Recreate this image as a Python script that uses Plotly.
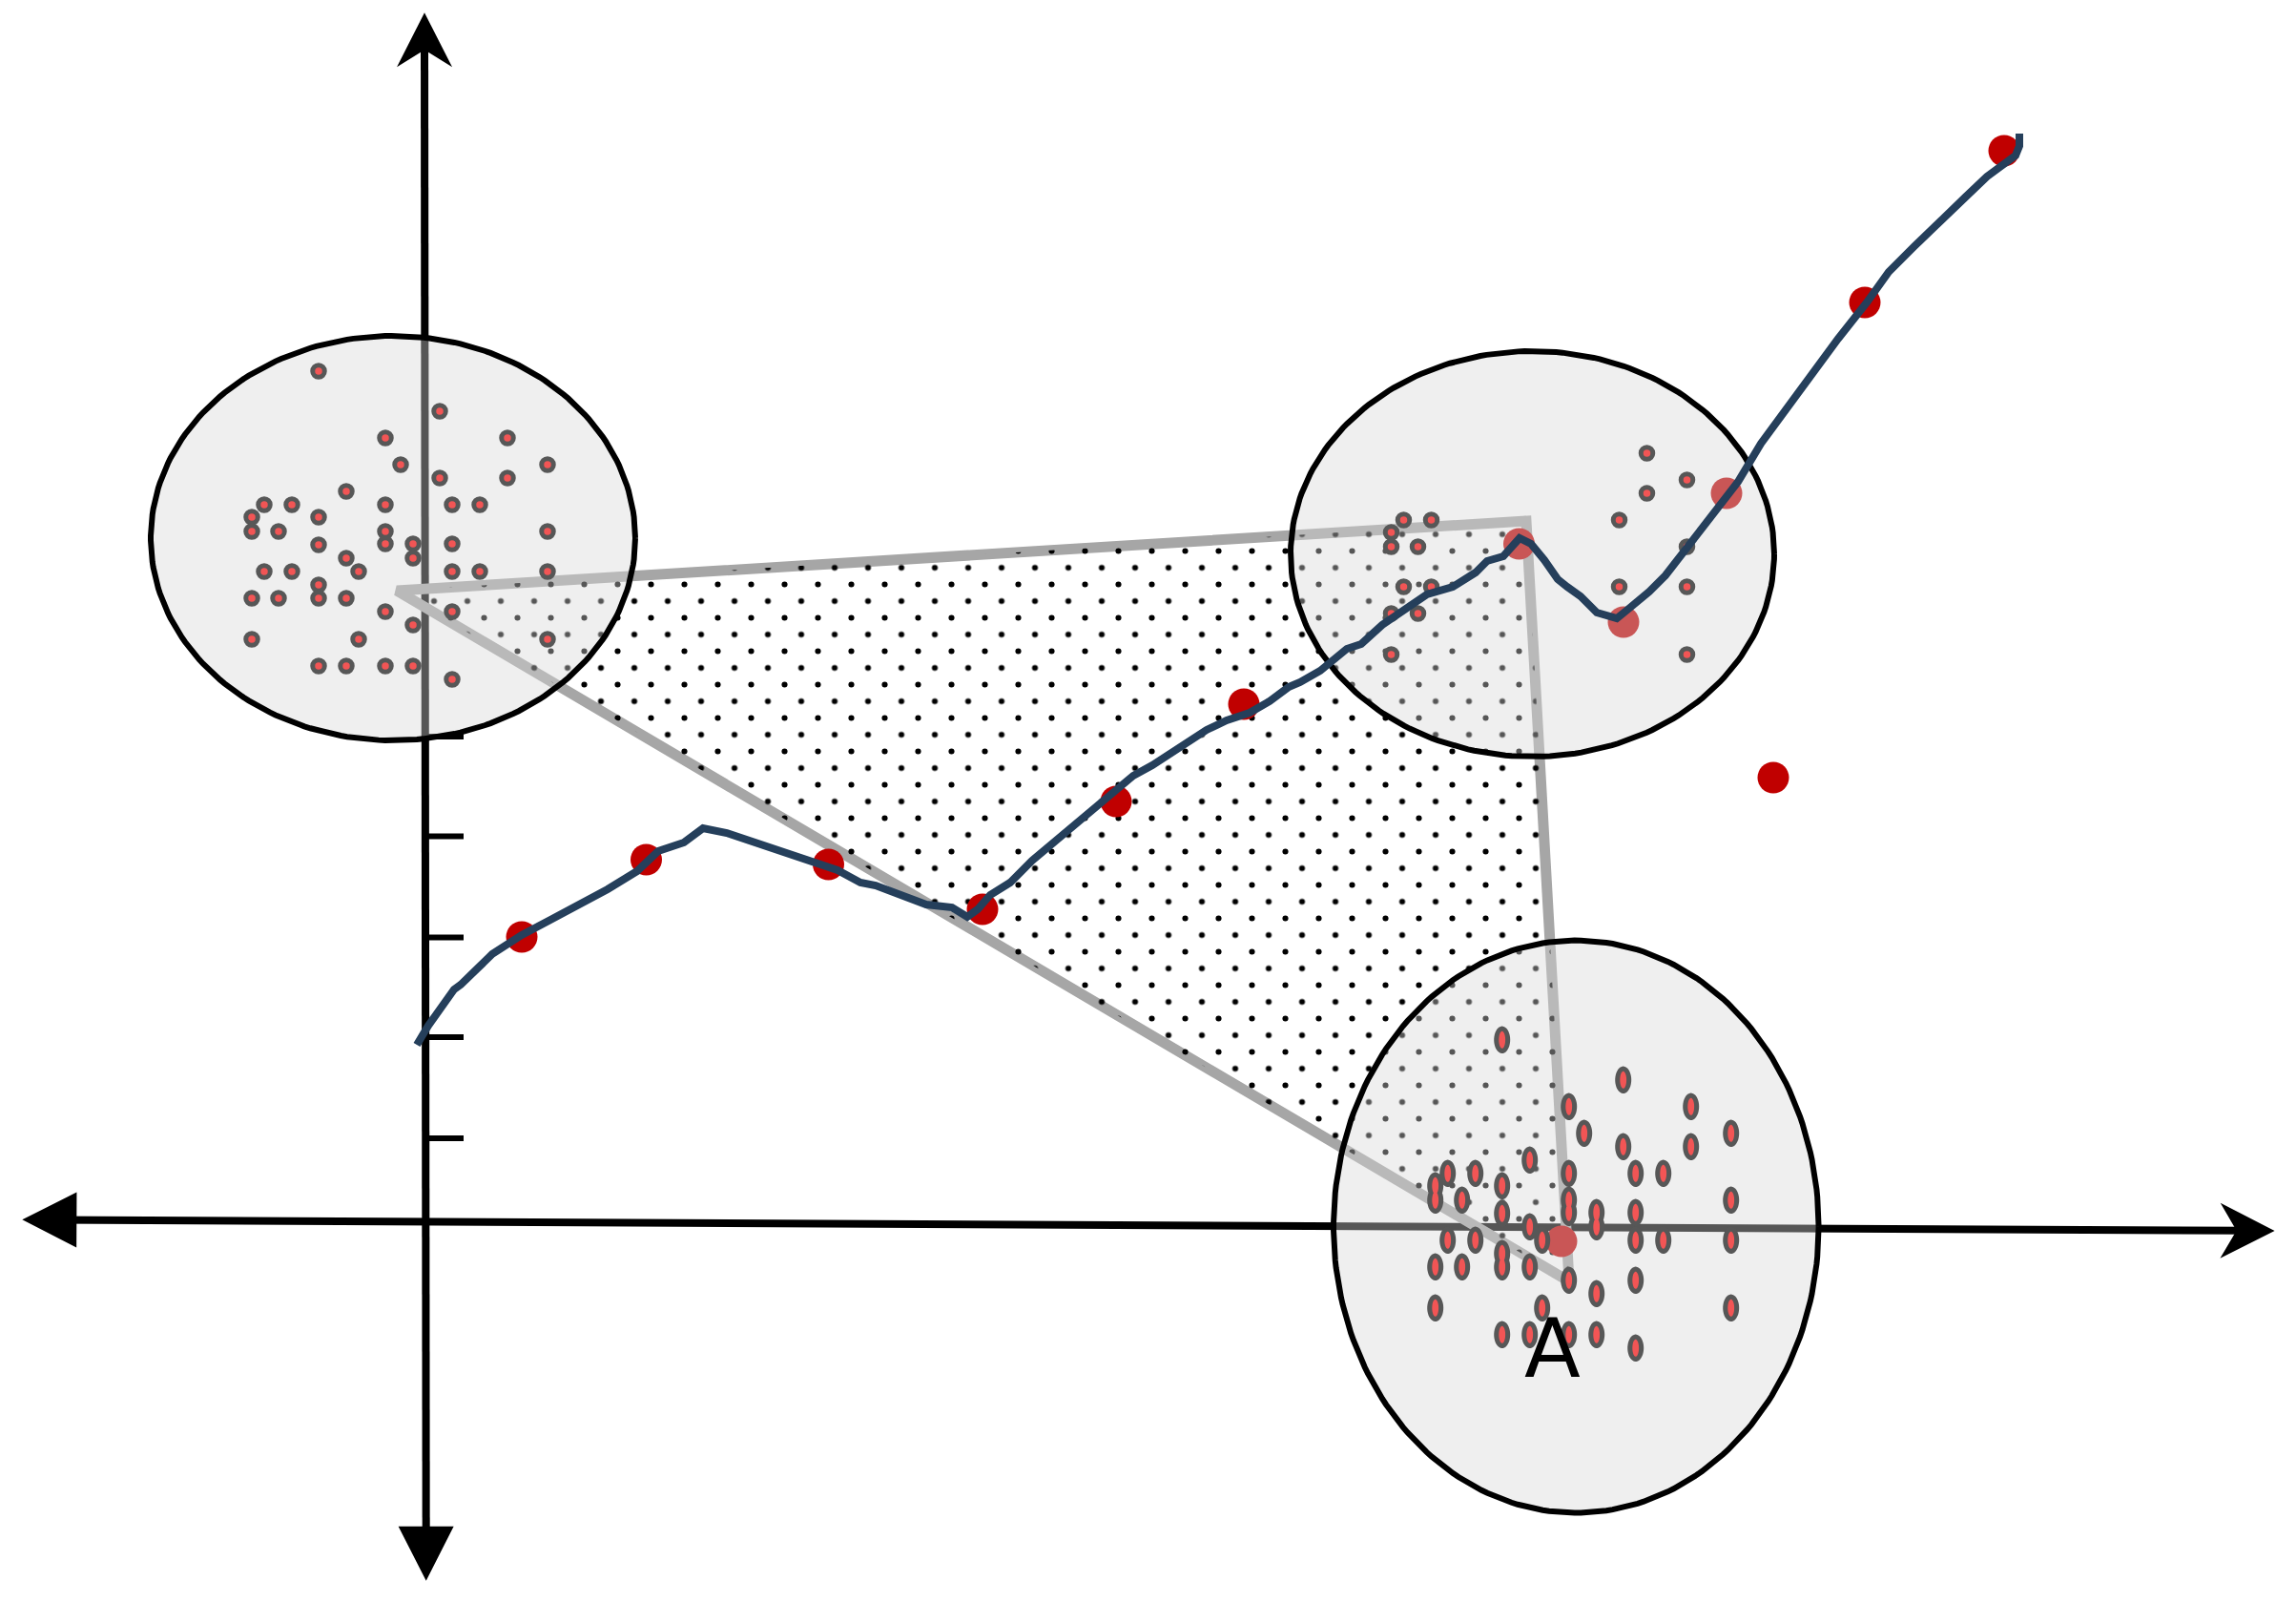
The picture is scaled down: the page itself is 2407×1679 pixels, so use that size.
import numpy as np
import plotly.graph_objects as go

# ---------------- data (1 unit = one axis step of the drawing) ----------------
# point pattern of the clusters (read from the upper-left cluster)
pat_x = [-1.13, 0.14, -0.43, 0.85, -0.27, 1.27, 0.14, 0.85, -0.84, -1.70, -1.41, -0.43,
         0.27, 0.56, -1.83, -1.13, -1.83, -1.55, -0.43, 1.27, -1.13, -0.43, -0.14, 0.27,
         -0.84, -0.14, -1.70, -1.41, -0.71, 0.27, 0.56, 1.27, -1.13, -1.83, -1.55, -1.13,
         -0.84, -0.43, 0.27, -0.14, -1.83, -0.71, 1.27, -1.13, -0.84, -0.43, -0.14, 0.27]
pat_y = [8.91, 8.49, 8.21, 8.21, 7.93, 7.93, 7.79, 7.79, 7.65, 7.51, 7.51, 7.51,
         7.51, 7.51, 7.38, 7.38, 7.23, 7.23, 7.23, 7.23, 7.09, 7.10, 7.10, 7.10,
         6.95, 6.95, 6.81, 6.81, 6.81, 6.81, 6.81, 6.81, 6.67, 6.53, 6.53, 6.53,
         6.53, 6.39, 6.39, 6.25, 6.10, 6.10, 6.10, 5.82, 5.82, 5.82, 5.82, 5.68]
tr_idx = [3, 5, 7, 9, 10, 13, 14, 16, 17, 19, 26, 27, 30, 31, 33, 34, 40, 42]
tr_shift = (11.945, -0.16)
bottom_shift = (12.407, -7.008)

# the three shaded ellipses
ell_cx = [-0.35, 11.595, 12.053]
ell_cy = [7.16, 6.995, -0.056]
ell_rx = [2.54, 2.535, 2.543]
ell_ry = [2.12, 2.125, 3.00]

# the dotted triangle
tri_x = [-0.31, 11.53, 11.98]
tri_y = [6.61, 7.34, -0.63]

# the curve
curve_x = [-0.10, 0.02, 0.29, 0.36, 0.69, 1.00, 1.32, 1.61, 1.90, 2.21, 2.43, 2.70, 2.90,
           3.15, 3.41, 3.99, 4.31, 4.55, 4.71, 5.24, 5.51, 5.67, 5.78, 5.91, 6.12, 6.35,
           6.67, 6.96, 7.25, 7.41, 7.61, 7.90, 8.18, 8.39, 8.63, 8.84, 9.04, 9.16, 9.37,
           9.65, 9.80, 10.02, 10.27, 10.49, 10.76, 11.00, 11.12, 11.29, 11.46, 11.58, 11.72,
           11.86, 11.96, 12.10, 12.27, 12.37, 12.48, 12.58, 12.82, 12.99, 13.23, 13.47,
           13.75, 13.99, 14.33, 14.50, 14.80, 15.10, 15.33, 15.60, 15.86, 16.13, 16.36,
           16.53, 16.66, 16.70, 16.70]
curve_y = [1.85, 2.05, 2.43, 2.48, 2.80, 3.00, 3.17, 3.32, 3.48, 3.67, 3.88, 3.97, 4.12,
           4.07, 3.98, 3.80, 3.68, 3.55, 3.52, 3.32, 3.29, 3.19, 3.27, 3.42, 3.55, 3.78,
           4.05, 4.30, 4.55, 4.67, 4.78, 4.98, 5.15, 5.25, 5.33, 5.45, 5.60, 5.65, 5.77,
           6.00, 6.05, 6.25, 6.43, 6.57, 6.65, 6.80, 6.92, 6.97, 7.16, 7.10, 6.93,
           6.73, 6.65, 6.55, 6.38, 6.35, 6.32, 6.40, 6.60, 6.77, 7.07, 7.38,
           7.75, 8.15, 8.62, 8.83, 9.25, 9.63, 9.95, 10.22, 10.48, 10.73, 10.95,
           11.08, 11.17, 11.27, 11.40]

# large red points
red_x = [1.00, 2.305, 4.215, 5.83, 7.23, 8.57, 11.455, 12.55, 13.63, 15.08, 16.54, 14.12, 11.90]
red_y = [2.98, 3.79, 3.74, 3.27, 4.40, 5.42, 7.10, 6.28, 7.63, 9.63, 11.22, 4.65, -0.21]

# axes and ticks
xaxis_ends_x = [-4.237, 19.376]
xaxis_ends_y = [0.017, -0.100]
yaxis_ends_x = [-0.02, -0.003]
yaxis_ends_y = [12.667, -3.767]
tick_y = [5.08, 4.035, 2.975, 1.93, 0.87]
tick_len = 0.39

label_text = "A"
label_pos = (11.80, -1.33)

# ---------------- helpers ----------------
X0, X1 = -4.47, 19.60
Y0, Y1 = -3.99, 12.80
W, H = 2407, 1679
SHIFT_PX = 17.5
sh = SHIFT_PX / 100.0


def ellipse_path(cx, cy, rx, ry, n=240):
    t = np.linspace(0, 2 * np.pi, n)
    return list(cx + rx * np.cos(t)), list(cy + ry * np.sin(t))


def many_ellipses(xs, ys, rx, ry, n=40):
    ox, oy = [], []
    for x, y in zip(xs, ys):
        ex, ey = ellipse_path(x, y, rx, ry, n)
        ox += ex + [None]
        oy += ey + [None]
    return ox, oy


def arrow_head(tip, tail, length, half_w, notch):
    """polygon of an arrow head whose point sits at `tip`, pointing away from `tail`"""
    d = np.array(tip, float) - np.array(tail, float)
    d /= np.hypot(*d)
    n = np.array([-d[1], d[0]])
    tipv = np.array(tip, float)
    base = tipv - d * length
    pts = [tipv, base + n * half_w, tipv - d * (length - notch), base - n * half_w, tipv]
    return [p[0] for p in pts] + [None], [p[1] for p in pts] + [None]


fig = go.Figure()

# ---- layer 1 (subplot xy): axes, ticks, triangle edges, first half of dot texture
ax_line_w = 8
head_len, head_half = 0.57, 0.29
fig.add_trace(go.Scatter(
    x=[xaxis_ends_x[0] + 0.3, xaxis_ends_x[1] - 0.3, None, yaxis_ends_x[0], yaxis_ends_x[1]],
    y=[xaxis_ends_y[0] - 0.0015, xaxis_ends_y[1] + 0.0015, None, yaxis_ends_y[0] - 0.3, yaxis_ends_y[1] + 0.3],
    mode="lines", line=dict(color="black", width=ax_line_w), xaxis="x", yaxis="y",
    hoverinfo="skip", showlegend=False))
hx, hy = [], []
for tip, tail, notch in [
    ((yaxis_ends_x[0], yaxis_ends_y[0]), (yaxis_ends_x[1], yaxis_ends_y[1]), 0.18),
    ((yaxis_ends_x[1], yaxis_ends_y[1]), (yaxis_ends_x[0], yaxis_ends_y[0]), 0.0),
    ((xaxis_ends_x[0], xaxis_ends_y[0]), (xaxis_ends_x[1], xaxis_ends_y[1]), 0.0),
    ((xaxis_ends_x[1], xaxis_ends_y[1]), (xaxis_ends_x[0], xaxis_ends_y[0]), 0.17),
]:
    a, b = arrow_head(tip, tail, head_len, head_half, notch)
    hx += a
    hy += b
fig.add_trace(go.Scatter(x=hx, y=hy, mode="none", fill="toself", fillcolor="black",
                         xaxis="x", yaxis="y", hoverinfo="skip", showlegend=False))

tx, ty = [], []
for t in tick_y:
    tx += [0.0, tick_len, None]
    ty += [t, t, None]
fig.add_trace(go.Scatter(x=tx, y=ty, mode="lines", line=dict(color="black", width=6),
                         xaxis="x", yaxis="y", hoverinfo="skip", showlegend=False))

fig.add_trace(go.Scatter(x=tri_x + [tri_x[0], tri_x[1]], y=tri_y + [tri_y[0], tri_y[1]], mode="lines",
                         line=dict(color="#a6a6a6", width=11),
                         xaxis="x", yaxis="y", hoverinfo="skip", showlegend=False))

dot_pattern = dict(shape=".", fgcolor="black", bgcolor="rgba(0,0,0,0)", size=35,
                   solidity=0.024, fillmode="replace")
fig.add_trace(go.Scatter(x=tri_x + [tri_x[0]], y=tri_y + [tri_y[0]], mode="none", fill="toself",
                         fillcolor="rgba(0,0,0,0)", fillpattern=dot_pattern,
                         xaxis="x", yaxis="y", hoverinfo="skip", showlegend=False))

# ---- layer 2 (subplot x2y2, shifted half a tile): everything else
fig.add_trace(go.Scatter(x=tri_x + [tri_x[0]], y=tri_y + [tri_y[0]], mode="none", fill="toself",
                         fillcolor="rgba(0,0,0,0)", fillpattern=dot_pattern,
                         xaxis="x2", yaxis="y2", hoverinfo="skip", showlegend=False))

# big red points (beneath the shaded ellipses)
fig.add_trace(go.Scatter(x=red_x, y=red_y, mode="markers",
                         marker=dict(size=33, color="#c00000", line=dict(width=0)),
                         xaxis="x2", yaxis="y2", hoverinfo="skip", showlegend=False))

# shaded ellipses
ex_all, ey_all = [], []
for cx, cy, rx, ry in zip(ell_cx, ell_cy, ell_rx, ell_ry):
    ex, ey = ellipse_path(cx, cy, rx, ry)
    ex_all += ex + [None]
    ey_all += ey + [None]
fig.add_trace(go.Scatter(x=ex_all, y=ey_all, mode="lines", fill="toself",
                         fillcolor="rgba(215,215,215,0.4)", line=dict(color="black", width=6),
                         xaxis="x2", yaxis="y2", hoverinfo="skip", showlegend=False))

# cluster points: upper-left and upper-right
pt_fill = "#f25555"
pt_ring = "#575757"
c1x = pat_x
c1y = pat_y
c2x = [pat_x[i] + tr_shift[0] for i in tr_idx]
c2y = [pat_y[i] + tr_shift[1] for i in tr_idx]
fig.add_trace(go.Scatter(x=c1x + c2x, y=c1y + c2y, mode="markers",
                         marker=dict(size=12.5, color=pt_fill, line=dict(color=pt_ring, width=5)),
                         xaxis="x2", yaxis="y2", hoverinfo="skip", showlegend=False))

# bottom cluster (elongated points)
c3x = [x + bottom_shift[0] for x in pat_x]
c3y = [y + bottom_shift[1] for y in pat_y]
ox, oy = many_ellipses(c3x, c3y, 0.085, 0.142)
fig.add_trace(go.Scatter(x=ox, y=oy, mode="none", fill="toself", fillcolor=pt_ring,
                         xaxis="x2", yaxis="y2", hoverinfo="skip", showlegend=False))
ix, iy = many_ellipses(c3x, c3y, 0.034, 0.09)
fig.add_trace(go.Scatter(x=ix, y=iy, mode="none", fill="toself", fillcolor=pt_fill,
                         xaxis="x2", yaxis="y2", hoverinfo="skip", showlegend=False))

# the curve
fig.add_trace(go.Scatter(x=curve_x, y=curve_y, mode="lines",
                         line=dict(color="#253f5b", width=8),
                         xaxis="x2", yaxis="y2", hoverinfo="skip", showlegend=False))

# ---- label
annotations = [dict(x=label_pos[0], y=label_pos[1], xref="x2", yref="y2", text=label_text,
                    showarrow=False, font=dict(family="DejaVu Sans", size=86, color="black"))]

axis_common = dict(visible=False, showgrid=False, zeroline=False, showticklabels=False, fixedrange=True)
fig.update_layout(
    width=W, height=H,
    margin=dict(l=0, r=0, t=0, b=0, pad=0),
    paper_bgcolor="white", plot_bgcolor="rgba(0,0,0,0)",
    showlegend=False, hovermode=False,
    xaxis=dict(domain=[0, 1], range=[X0, X1], anchor="y", **axis_common),
    yaxis=dict(domain=[0, 1], range=[Y0, Y1], anchor="x", **axis_common),
    xaxis2=dict(domain=[SHIFT_PX / W, 1], range=[X0 + sh, X1], anchor="y2", **axis_common),
    yaxis2=dict(domain=[0, 1 - SHIFT_PX / H], range=[Y0, Y1 - sh], anchor="x2", **axis_common),
    annotations=annotations,
)

fig.write_html("out.html", config={"displayModeBar": False},
               post_script="document.body.style.margin='0px';document.body.style.overflow='hidden';")
